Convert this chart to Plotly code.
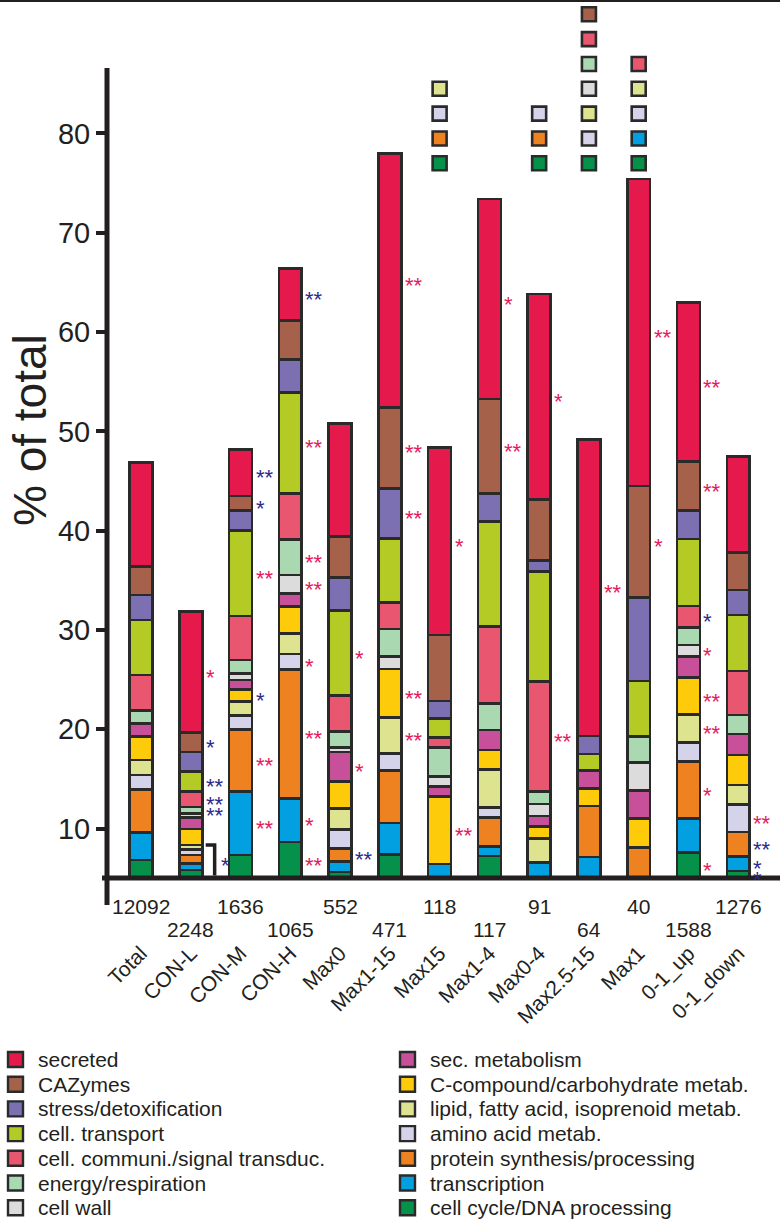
import plotly.graph_objects as go

FONT = "Arial, 'Liberation Sans', Helvetica, sans-serif"
INK = "#231f20"
STAR_RED = "#E5195E"
STAR_BLUE = "#2E2A8C"

groups = ["Total", "CON-L", "CON-M", "CON-H", "Max0", "Max1-15", "Max15", "Max1-4",
          "Max0-4", "Max2.5-15", "Max1", "0-1_up", "0-1_down"]
counts = ["12092", "2248", "1636", "1065", "552", "471", "118", "117", "91", "64", "40", "1588", "1276"]

# segment sizes (% of total), stacked bottom -> top
cell_cycle    = [6.84, 5.83, 7.34, 8.65, 5.63, 7.39, None, 7.24, None, None, None, 7.60, 5.73]
transcription = [2.75, 0.66, 6.38, 4.40, 1.06, 3.17, 6.44, 0.99, 6.59, 7.16, None, 3.44, 1.47]
protein       = [4.37, 0.85, 6.28, 12.97, 1.33, 5.27, None, 2.87, None, 5.12, 8.12, 5.70, 2.46]
amino         = [1.44, 0.55, 1.37, 1.56, 1.91, 1.75, None, 1.00, None, None, None, 1.91, 2.79]
lipid         = [1.51, 0.46, 1.41, 2.07, 2.07, 3.63, None, 3.87, 2.43, None, None, 2.86, 1.94]
c_compound    = [2.35, 1.61, 1.25, 2.74, 2.74, 4.86, 6.77, 1.95, 1.17, 1.78, 2.92, 3.69, 3.02]
sec_metab     = [1.34, 1.16, 0.93, 1.29, 2.97, None, 1.01, 2.01, 1.08, 1.77, 2.78, 2.11, 2.12]
cell_wall     = [None, 0.40, 0.68, 1.86, 0.48, 1.24, 1.01, None, 1.21, None, 2.82, 1.18, None]
energy        = [1.27, 0.65, 1.34, 3.59, 1.62, 2.79, 2.96, 2.69, 1.24, None, 2.62, 1.78, 1.91]
communi       = [3.60, 1.60, 4.43, 4.64, 3.59, 2.69, 0.96, 7.72, 11.07, None, None, 2.15, 4.43]
transport     = [5.54, 1.98, 8.59, 10.17, 8.54, 6.44, 1.92, 10.57, 11.08, 1.69, 5.61, 6.74, 5.64]
stress        = [2.52, 1.96, 2.01, 3.32, 3.37, 5.04, 1.78, 2.86, 1.11, 1.81, 8.42, 2.85, 2.52]
cazymes       = [2.85, 1.95, 1.49, 3.89, 4.09, 8.16, 6.65, 9.49, 6.18, None, 11.21, 4.94, 3.80]
secreted      = [10.47, 12.18, 4.70, 5.25, 11.41, 25.57, 18.90, 20.14, 20.68, 29.87, 30.92, 16.01, 9.62]

# (name, values, colour, legend column, legend row)
categories = [
    ("cell cycle/DNA processing", cell_cycle, "#06914A", 1, 6),
    ("transcription", transcription, "#02A0E1", 1, 5),
    ("protein synthesis/processing", protein, "#EE8120", 1, 4),
    ("amino acid metab.", amino, "#D5D3EA", 1, 3),
    ("lipid, fatty acid, isoprenoid metab.", lipid, "#DDE38E", 1, 2),
    ("C-compound/carbohydrate metab.", c_compound, "#FECB0A", 1, 1),
    ("sec. metabolism", sec_metab, "#C8509A", 1, 0),
    ("cell wall", cell_wall, "#DCDCDC", 0, 6),
    ("energy/respiration", energy, "#AAD8B1", 0, 5),
    ("cell. communi./signal transduc.", communi, "#E9566F", 0, 4),
    ("cell. transport", transport, "#B3CB24", 0, 3),
    ("stress/detoxification", stress, "#7C6FB2", 0, 2),
    ("CAZymes", cazymes, "#A6614B", 0, 1),
    ("secreted", secreted, "#E5194C", 0, 0),
]

# coloured squares above some bars (bottom -> top)
flag_squares = {
    "Max15": ["cell cycle/DNA processing", "protein synthesis/processing",
              "amino acid metab.", "lipid, fatty acid, isoprenoid metab."],
    "Max0-4": ["cell cycle/DNA processing", "protein synthesis/processing", "amino acid metab."],
    "Max2.5-15": ["cell cycle/DNA processing", "amino acid metab.", "lipid, fatty acid, isoprenoid metab.",
                  "cell wall", "energy/respiration", "cell. communi./signal transduc.", "CAZymes"],
    "Max1": ["cell cycle/DNA processing", "transcription", "amino acid metab.",
             "lipid, fatty acid, isoprenoid metab.", "cell. communi./signal transduc."],
}

# significance marks: (group, category, mark, colour)
R, B = "r", "b"
stars = [
    ("CON-L", "secreted", "*", R), ("CON-L", "CAZymes", "*", B),
    ("CON-L", "cell. transport", "**", B), ("CON-L", "cell. communi./signal transduc.", "**", B),
    ("CON-L", "energy/respiration", "**", B),
    ("CON-M", "secreted", "**", B), ("CON-M", "CAZymes", "*", B), ("CON-M", "cell. transport", "**", R),
    ("CON-M", "C-compound/carbohydrate metab.", "*", B), ("CON-M", "protein synthesis/processing", "**", R),
    ("CON-M", "transcription", "**", R),
    ("CON-H", "secreted", "**", B), ("CON-H", "cell. transport", "**", R), ("CON-H", "energy/respiration", "**", R),
    ("CON-H", "cell wall", "**", R), ("CON-H", "amino acid metab.", "*", R),
    ("CON-H", "protein synthesis/processing", "**", R), ("CON-H", "transcription", "*", R),
    ("CON-H", "cell cycle/DNA processing", "**", R),
    ("Max0", "cell. transport", "*", R), ("Max0", "sec. metabolism", "*", R),
    ("Max0", "protein synthesis/processing", "**", B),
    ("Max1-15", "secreted", "**", R), ("Max1-15", "CAZymes", "**", R), ("Max1-15", "stress/detoxification", "**", R),
    ("Max1-15", "C-compound/carbohydrate metab.", "**", R), ("Max1-15", "lipid, fatty acid, isoprenoid metab.", "**", R),
    ("Max15", "secreted", "*", R), ("Max15", "C-compound/carbohydrate metab.", "**", R),
    ("Max1-4", "secreted", "*", R), ("Max1-4", "CAZymes", "**", R),
    ("Max0-4", "secreted", "*", R), ("Max0-4", "cell. communi./signal transduc.", "**", R),
    ("Max2.5-15", "secreted", "**", R),
    ("Max1", "secreted", "**", R), ("Max1", "CAZymes", "*", R),
    ("0-1_up", "secreted", "**", R), ("0-1_up", "CAZymes", "**", R),
    ("0-1_up", "cell. communi./signal transduc.", "*", B), ("0-1_up", "cell wall", "*", R),
    ("0-1_up", "C-compound/carbohydrate metab.", "**", R), ("0-1_up", "lipid, fatty acid, isoprenoid metab.", "**", R),
    ("0-1_up", "protein synthesis/processing", "*", R), ("0-1_up", "cell cycle/DNA processing", "*", R),
    ("0-1_down", "amino acid metab.", "**", R), ("0-1_down", "protein synthesis/processing", "**", B),
    ("0-1_down", "transcription", "*", B), ("0-1_down", "cell cycle/DNA processing", "*", B),
]
# bracketed group of small categories (CON-L), marked "*"
bracket = ("CON-L", "lipid, fatty acid, isoprenoid metab.", "*", B)

# ---------------- layout geometry (pixels) ----------------
W, H = 780, 1219
PLOT_L, PLOT_R, PLOT_T, PLOT_B = 107, 780, 0, 878
Y_MIN, Y_MAX = 5.03, 93.44
X_MIN, X_MAX = -0.683, 12.839
AXIS_TOP = 68             # pixel row where the drawn y-axis line starts
BAR_W = 0.46
SQ_Y0, SQ_STEP = 77.0, 2.5
LEG_X = (8, 400)          # square left edge per legend column
LEG_Y0, LEG_DY = 1059.5, 24.7
LEG_SQ = 15


def py(p):  # pixel row -> paper y
    return (PLOT_B - p) / (PLOT_B - PLOT_T)


def px(p):  # pixel column -> paper x
    return (p - PLOT_L) / (PLOT_R - PLOT_L)


xs = list(range(len(groups)))
fig = go.Figure()

colour_of = {}
for name, vals, col, lcol, lrow in categories:
    colour_of[name] = col
    fig.add_trace(go.Bar(
        x=xs, y=vals, name=name, width=BAR_W, showlegend=False,
        marker=dict(color=col, line=dict(color="#2a2a2a", width=2.6)),
        hoverinfo="skip",
    ))

# cumulative positions of segments
seg = {}
for gi in range(len(groups)):
    base = 0.0
    for name, vals, col, _, _ in categories:
        v = vals[gi] or 0.0
        seg[(groups[gi], name)] = (base, base + v)
        base += v

# squares above bars
for g, cats in flag_squares.items():
    gi = groups.index(g)
    fig.add_trace(go.Scatter(
        x=[gi] * len(cats), y=[SQ_Y0 + SQ_STEP * k for k in range(len(cats))],
        mode="markers", showlegend=False, cliponaxis=False, hoverinfo="skip",
        marker=dict(symbol="square", size=14, color=[colour_of[c] for c in cats],
                    line=dict(color="#2a2a2a", width=2.6)),
    ))

annotations = []
shapes = []
for g, cat, mark, c in stars:
    gi = groups.index(g)
    lo, hi = seg[(g, cat)]
    yc = (max(lo, Y_MIN) + hi) / 2
    annotations.append(dict(
        x=gi, y=yc, xref="x", yref="y", text=mark, showarrow=False,
        xanchor="left", yanchor="middle", xshift=13, yshift=-5,
        font=dict(family=FONT, size=22, color=STAR_RED if c == R else STAR_BLUE)))

# bracket
bg, bcat, bmark, bc = bracket
gi = groups.index(bg)
b_top = seg[(bg, bcat)][1]
b_bot = Y_MIN + 0.25
shapes.append(dict(type="path", xref="x", yref="y",
                   path=f"M {gi + 0.30},{b_top} L {gi + 0.48},{b_top} L {gi + 0.48},{b_bot}",
                   line=dict(color=INK, width=3.5)))
annotations.append(dict(x=gi + 0.48, y=(b_top + b_bot) / 2, xref="x", yref="y", text=bmark,
                        showarrow=False, xanchor="left", yanchor="middle", xshift=4, yshift=-5,
                        font=dict(family=FONT, size=22, color=STAR_BLUE)))

# counts below the axis (two staggered rows)
for i, c in enumerate(counts):
    annotations.append(dict(x=i, y=py(906 if i % 2 == 0 else 929), xref="x", yref="paper",
                            text=c, showarrow=False, xanchor="center", yanchor="middle",
                            font=dict(family=FONT, size=21, color=INK)))

# y-axis title
annotations.append(dict(x=px(30), y=py(430), xref="paper", yref="paper", text="% of total",
                        textangle=-90, showarrow=False, xanchor="center", yanchor="middle",
                        font=dict(family=FONT, size=46, color=INK)))

# legend (two columns, drawn from the category list)
for name, vals, col, lcol, lrow in categories:
    x0 = LEG_X[lcol]
    yc = LEG_Y0 + LEG_DY * lrow
    shapes.append(dict(type="rect", xref="paper", yref="paper",
                       x0=px(x0), x1=px(x0 + LEG_SQ), y0=py(yc - LEG_SQ / 2), y1=py(yc + LEG_SQ / 2),
                       fillcolor=col, line=dict(color="#2a2a2a", width=2.4)))
    annotations.append(dict(x=px(x0 + 28), y=py(yc), xref="paper", yref="paper", text=name,
                            showarrow=False, xanchor="left", yanchor="middle",
                            font=dict(family=FONT, size=21, color=INK)))

# axis lines and top rule
shapes += [
    dict(type="line", xref="paper", yref="paper", x0=0, x1=0, y0=py(905), y1=py(AXIS_TOP),
         line=dict(color=INK, width=5), layer="above"),
    dict(type="line", xref="paper", yref="paper", x0=px(102), x1=1, y0=0, y1=0,
         line=dict(color=INK, width=5), layer="above"),
    dict(type="line", xref="paper", yref="paper", x0=px(0), x1=1, y0=py(1), y1=py(1),
         line=dict(color=INK, width=2), layer="above"),
]

fig.update_layout(
    width=W, height=H, barmode="stack",
    margin=dict(l=PLOT_L, r=W - PLOT_R, t=PLOT_T, b=H - PLOT_B, pad=0, autoexpand=False),
    plot_bgcolor="white", paper_bgcolor="white",
    font=dict(family=FONT, color=INK),
    xaxis=dict(range=[X_MIN, X_MAX], tickvals=xs, ticktext=groups, tickangle=-45,
               showgrid=False, zeroline=False, showline=False, ticks="",
               ticklabelstandoff=58, tickfont=dict(family=FONT, size=21, color=INK)),
    yaxis=dict(range=[Y_MIN, Y_MAX], tickvals=[10, 20, 30, 40, 50, 60, 70, 80],
               showgrid=False, zeroline=False, showline=False,
               ticks="outside", ticklen=10, tickwidth=4, tickcolor=INK,
               tickfont=dict(family=FONT, size=29, color=INK)),
    showlegend=False,
    annotations=annotations, shapes=shapes,
)

fig.write_html("out.html", config={"displayModeBar": False},
               post_script="document.body.style.margin='0px';document.body.style.overflow='hidden';")
